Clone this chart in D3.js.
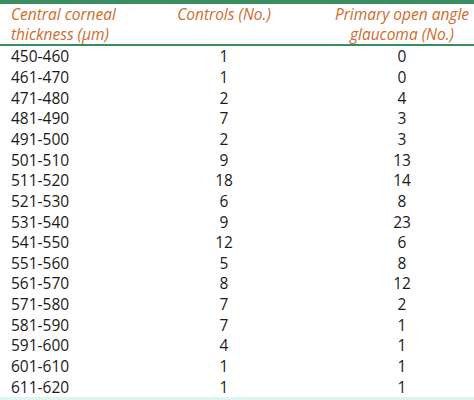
<!DOCTYPE html>
<html><head><meta charset="utf-8">
<script src="https://cdn.jsdelivr.net/npm/d3@7"></script>
<style>body{margin:0;background:#fff}</style>
</head><body><div id="chart"></div>
<script>
const ranges = ["450-460","461-470","471-480","481-490","491-500","501-510","511-520","521-530","531-540","541-550","551-560","561-570","571-580","581-590","591-600","601-610","611-620"];
const controls = [1,1,2,7,2,9,18,6,9,12,5,8,7,7,4,1,1];
const poag = [0,0,4,3,3,13,14,8,23,6,8,12,2,1,1,1,1];

const w = 474, h = 400;
const svg = d3.select("#chart").append("svg").attr("width", w).attr("height", h);
const font = "'Open Sans', 'DejaVu Sans', sans-serif";

svg.append("rect").attr("x", 0).attr("y", 0).attr("width", w).attr("height", 4).attr("fill", "#3a8d5f");
svg.append("rect").attr("x", 0).attr("y", 44).attr("width", w).attr("height", 2).attr("fill", "#3a8d5f");
svg.append("rect").attr("x", 0).attr("y", 397).attr("width", w).attr("height", 3).attr("fill", "#dff5f2");

const head = [
  {x: 11, anchor: "start", lines: ["Central corneal", "thickness (\u03bcm)"]},
  {x: 224, anchor: "middle", lines: ["Controls (No.)"]},
  {x: 402, anchor: "middle", lines: ["Primary open angle", "glaucoma (No.)"]}
];
head.forEach(hd => {
  hd.lines.forEach((t, i) => {
    svg.append("text").attr("x", hd.x).attr("y", 20 + i * 20)
      .attr("text-anchor", hd.anchor).attr("font-family", font)
      .attr("font-style", "italic").attr("font-size", 15.5).attr("fill", "#cf6b2c").text(t);
  });
});

const y = d3.scaleBand().domain(ranges).range([47, 398]);
const rows = svg.selectAll("g.row").data(ranges).enter().append("g")
  .attr("transform", d => `translate(0,${y(d) + y.bandwidth() / 2 + 5})`);
const txt = (sel, x, anchor, f) => sel.append("text").attr("x", x).attr("text-anchor", anchor)
  .attr("font-family", font).attr("font-size", 15.5).attr("fill", "#1a1a1a").text(f);
txt(rows, 11, "start", d => d);
txt(rows, 224, "middle", (d, i) => controls[i]);
txt(rows, 402, "middle", (d, i) => poag[i]);
</script></body></html>
